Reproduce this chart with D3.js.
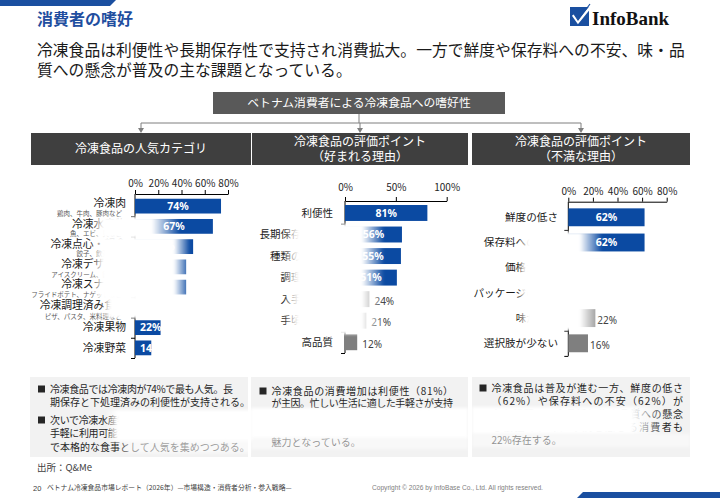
<!DOCTYPE html>
<html>
<head>
<meta charset="utf-8">
<script src="https://cdn.jsdelivr.net/npm/d3@7"></script>
<style>
  body { margin: 0; background: #fff; }
  svg { display: block; }
</style>
</head>
<body>
<div id="chart"></div>
<script>
// chart 1: popular categories
const popularCats = ["冷凍肉", "冷凍水産物", "冷凍点心・軽食", "冷凍デザート", "冷凍スナック", "冷凍調理済み食品", "冷凍果物", "冷凍野菜"];
const popularSubs = ["鶏肉、牛肉、豚肉など", "魚、エビ、貝など", "餃子、飲茶など", "アイスクリーム、餅など", "フライドポテト、ナゲットなど", "ピザ、パスタ、米料理など", "", ""];
const popularValues = [74, 67, 50, 44, 44, 36, 22, 14];
const popularTicks = [0, 20, 40, 60, 80];

// chart 2: reasons liked
const likeCats = ["利便性", "長期保存が可能", "種類の豊富さ", "調理が簡単", "入手が容易", "手頃な価格", "高品質"];
const likeValues = [81, 56, 55, 51, 24, 21, 12];
const likeTicks = [0, 50, 100];

// chart 3: reasons disliked
const dislikeCats = ["鮮度の低さ", "保存料への不安", "価格が高い", "パッケージの問題", "味が悪い", "選択肢が少ない"];
const dislikeValues = [62, 62, 40, 30, 22, 16];
const dislikeTicks = [0, 20, 40, 60, 80];

const W = 720, H = 498;
const FONT = '"Noto Sans CJK JP","Noto Sans",sans-serif';
const BLUE = "#0b4aa2", GRAY = "#7f7f7f";

const svg = d3.select("#chart").append("svg").attr("width", W).attr("height", H)
  .style("font-family", FONT);
const defs = svg.append("defs");
defs.append("filter").attr("id", "soft").attr("x", "-5%").attr("y", "-20%")
  .attr("width", "110%").attr("height", "140%")
  .append("feGaussianBlur").attr("stdDeviation", 1.6);

// header decorations
svg.append("path").attr("d", "M0,0 L116,0 L110,6 L0,6 Z").attr("fill", "#1a4fa0");
svg.append("path").attr("d", "M583,492 L720,492 L720,498 L577,498 Z").attr("fill", "#1a4fa0");

svg.append("text").attr("x", 37).attr("y", 25).attr("font-size", 16).attr("font-weight", 700)
  .attr("fill", "#1f4e9f").text("消費者の嗜好");

// logo
svg.append("rect").attr("x", 570).attr("y", 7).attr("width", 19).attr("height", 19).attr("fill", "#1a4fa0");
svg.append("path").attr("d", "M573,15 L578,22 L592,5").attr("fill", "none")
  .attr("stroke", "#fff").attr("stroke-width", 2.6);
svg.append("path").attr("d", "M574,14 L578,20 L590,4").attr("fill", "none")
  .attr("stroke", "#1a4fa0").attr("stroke-width", 1.2);
svg.append("text").attr("x", 592).attr("y", 25).attr("font-family", '"Liberation Serif",serif')
  .attr("font-size", 19).attr("font-weight", 700).attr("fill", "#111").text("InfoBank");

// lead text
const lead = ["冷凍食品は利便性や長期保存性で支持され消費拡大。一方で鮮度や保存料への不安、味・品",
  "質への懸念が普及の主な課題となっている。"];
lead.forEach((t, i) => svg.append("text").attr("x", 37).attr("y", 56 + i * 20)
  .attr("font-size", 15.8).attr("fill", "#1a1a1a").text(t));

// top box + connectors
svg.append("rect").attr("x", 213).attr("y", 92).attr("width", 292).attr("height", 22).attr("fill", "#595959");
svg.append("text").attr("x", 359).attr("y", 103).attr("dy", "0.35em").attr("text-anchor", "middle")
  .attr("font-size", 11.8).attr("fill", "#fff").text("ベトナム消費者による冷凍食品への嗜好性");
const conn = svg.append("g").attr("stroke", "#7f7f7f").attr("fill", "none");
conn.append("path").attr("d", "M359,114 V123 M141,123 H581 M141,123 V129 M360,123 V129 M581,123 V129");
[141, 360, 581].forEach(cx => svg.append("path").attr("d", `M${cx - 3},128 L${cx + 3},128 L${cx},133 Z`).attr("fill", "#7f7f7f"));

// section headers
const headers = [
  { x: 31, w: 220, lines: ["冷凍食品の人気カテゴリ"] },
  { x: 252, w: 216, lines: ["冷凍食品の評価ポイント", "（好まれる理由）"] },
  { x: 472, w: 218, lines: ["冷凍食品の評価ポイント", "（不満な理由）"] }
];
headers.forEach(h => {
  svg.append("rect").attr("x", h.x).attr("y", 133).attr("width", h.w).attr("height", 32).attr("fill", "#3f3f3f");
  h.lines.forEach((t, i) => svg.append("text").attr("x", h.x + h.w / 2)
    .attr("y", h.lines.length === 1 ? 149 : 142 + i * 15).attr("dy", "0.35em")
    .attr("text-anchor", "middle").attr("font-size", 12).attr("fill", "#fff").text(t));
});

const drawBars = (cfg) => {
  const g = svg.append("g");
  const n = cfg.cats.length;
  const x = d3.scaleLinear().domain([0, cfg.max]).range([cfg.left, cfg.right]);
  const y = d3.scaleBand().domain(cfg.cats).range([cfg.top, cfg.bottom])
    .paddingInner(cfg.pad).paddingOuter(cfg.pad / 2);
  const yb = d3.scaleLinear().domain([0, n]).range([cfg.top, cfg.bottom]);

  const xAxis = g.append("g").attr("transform", `translate(0,${cfg.axisY})`)
    .call(d3.axisTop(x).tickValues(cfg.ticks).tickFormat(d => d + "%")
      .tickSize(4).tickSizeOuter(0).tickPadding(cfg.tickPad));
  xAxis.select(".domain").attr("stroke", "#000");
  xAxis.selectAll("line").attr("stroke", "#000");
  xAxis.selectAll("text").attr("font-size", 10).attr("fill", "#262626").attr("font-family", FONT);

  const yAxis = g.append("g").attr("transform", `translate(${cfg.left},0)`)
    .call(d3.axisLeft(yb).tickValues(d3.range(1, n + 1)).tickFormat("").tickSize(4).tickSizeOuter(0));
  yAxis.select(".domain").attr("d", `M0,${cfg.axisY}V${cfg.bottom}`).attr("stroke", "#000");
  yAxis.selectAll("line").attr("stroke", "#000");

  cfg.cats.forEach((c, i) => {
    const v = cfg.values[i];
    const cy = y(c) + y.bandwidth() / 2;
    const blue = i < cfg.blueCount;
    g.append("rect").attr("x", x(0)).attr("y", y(c)).attr("width", x(v) - x(0))
      .attr("height", y.bandwidth()).attr("fill", blue ? BLUE : GRAY);
    const sub = cfg.subs ? cfg.subs[i] : "";
    g.append("text").attr("x", cfg.labelX).attr("y", sub ? cy - 2.5 : cy).attr("dy", "0.35em")
      .attr("text-anchor", "end").attr("font-size", cfg.labelSize).attr("fill", "#1a1a1a").text(c);
    if (sub) {
      g.append("text").attr("x", cfg.labelX - 4).attr("y", cy + (i === 5 ? 9.5 : 7.5)).attr("dy", "0.35em")
        .attr("text-anchor", "end").attr("font-size", 6.5).attr("fill", "#595959").text(sub);
    }
    if (blue) {
      const t = g.append("text").attr("y", cy).attr("dy", "0.36em").attr("font-size", 10.5)
        .attr("font-weight", 700).attr("fill", "#fff").attr("font-family", '"Noto Sans",sans-serif')
        .text(v + "%");
      const w = t.node().getComputedTextLength();
      t.attr("x", Math.max((x(0) + x(v)) / 2 - w / 2, x(0) + 5));
    } else {
      g.append("text").attr("x", x(v) + cfg.outGap).attr("y", cy + 2).attr("dy", "0.35em")
        .attr("font-size", 10).attr("fill", "#404040").attr("font-family", '"Noto Sans",sans-serif')
        .text(v + "%");
    }
  });
};

drawBars({ cats: popularCats, subs: popularSubs, values: popularValues, ticks: popularTicks, max: 80,
  left: 135, right: 228, axisY: 194, top: 196, bottom: 358, pad: 0.27, tickPad: 3,
  labelX: 126, labelSize: 10.8, blueCount: 8, outGap: 4 });
drawBars({ cats: likeCats, values: likeValues, ticks: likeTicks, max: 100,
  left: 345, right: 446.7, axisY: 201, top: 202.2, bottom: 353, pad: 0.26, tickPad: 6,
  labelX: 333, labelSize: 10.5, blueCount: 4, outGap: 5 });
drawBars({ cats: dislikeCats, values: dislikeValues, ticks: dislikeTicks, max: 80,
  left: 568.3, right: 666.7, axisY: 201.7, top: 204.7, bottom: 355.9, pad: 0.29, tickPad: 3,
  labelX: 558, labelSize: 10.6, blueCount: 2, outGap: 2 });

// comment boxes
const boxes = [
  { x: 30, w: 218, textX: 50, right: 233, paras: [
    { y: 389, lines: ["冷凍食品では冷凍肉が74%で最も人気。長", "期保存と下処理済みの利便性が支持される。"] },
    { y: 420, lines: ["次いで冷凍水産物（67%）が続き、調理が", "手軽に利用可能な点心やデザートも、家庭", "で本格的な食事として人気を集めつつある。"] }
  ] },
  { x: 251, w: 217, textX: 271.5, right: 453, paras: [
    { y: 391, step: 12.8, lines: ["冷凍食品の消費増加は利便性（81%）", "が主因。忙しい生活に適した手軽さが支持", "され、長期保存（56%）や種類の豊富さも", "消費者にとって冷凍食品を選ぶ大きな", "魅力となっている。"] }
  ] },
  { x: 472, w: 218, textX: 491.5, right: 683, paras: [
    { y: 388, step: 13.2, lines: ["冷凍食品は普及が進む一方、鮮度の低さ", "（62%）や保存料への不安（62%）が", "主な課題で、食品添加物や品質への懸念", "も根強く、味に不満を感じる消費者も", "22%存在する。"] }
  ] }
];
boxes.forEach(b => {
  svg.append("rect").attr("x", b.x).attr("y", 377).attr("width", b.w).attr("height", 80).attr("fill", "#f2f2f2");
  b.paras.forEach(p => {
    const step = p.step || 13.5;
    svg.append("rect").attr("x", b.textX - 12).attr("y", p.y - 3.5).attr("width", 7).attr("height", 7).attr("fill", "#262626");
    p.lines.forEach((t, i) => {
      const tx = svg.append("text").attr("x", b.textX).attr("y", p.y + i * step).attr("dy", "0.35em")
        .attr("font-size", 10).attr("fill", "#262626").text(t);
      if (i < p.lines.length - 1) tx.attr("textLength", b.right - b.textX).attr("lengthAdjust", "spacing");
    });
  });
});

// footer
svg.append("text").attr("x", 37).attr("y", 468).attr("dy", "0.35em").attr("font-size", 9.5)
  .attr("fill", "#404040").text("出所：Q&Me");
svg.append("text").attr("x", 33).attr("y", 488).attr("dy", "0.35em").attr("font-size", 7.5)
  .attr("fill", "#404040").attr("font-family", '"Liberation Sans",sans-serif').text("20");
svg.append("text").attr("x", 47).attr("y", 488).attr("dy", "0.35em").attr("font-size", 6.8)
  .attr("fill", "#404040").text("ベトナム冷凍食品市場レポート（2026年）—市場構造・消費者分析・参入戦略—");
svg.append("text").attr("x", 372).attr("y", 488).attr("dy", "0.35em").attr("font-size", 6.6)
  .attr("fill", "#808080").attr("font-family", '"Liberation Sans",sans-serif')
  .text("Copyright © 2026 by InfoBase Co., Ltd. All rights reserved.");

// white masks seen on the reference slide
const fogs = [
  { x: 92, y: 217, w: 96, h: 21, stops: [[92, 0], [103, 1], [152, 1], [180, 0]] },
  { x: 92, y: 237, w: 100, h: 62, stops: [[92, 0], [103, 1], [174, 1], [190, 0]] },
  { x: 100, y: 296, w: 118, h: 22, stops: [[100, 0], [110, 1], [200, 1], [216, 0]] },
  { x: 283, y: 224, w: 105, h: 110, stops: [[283, 0], [298, 1], [362, 1], [384, 0]] },
  { x: 518, y: 232, w: 85, h: 98, stops: [[518, 0], [528, 1], [580, 1], [602, 0]] },
  { x: 520, y: 256, w: 150, h: 50, stops: [[520, 0], [528, 1], [670, 1]] },
  { x: 106, y: 410, w: 146, h: 31, stops: [[106, 0], [118, 1], [252, 1]] },
  { x: 116, y: 440, w: 134, h: 13, stops: [[116, 0], [132, 0.55], [250, 0.55]] },
  { x: 251, y: 408, w: 217, h: 30, stops: [[251, 1], [468, 1]] },
  { x: 251, y: 436, w: 217, h: 13, stops: [[251, 0.5], [468, 0.5]] },
  { x: 472, y: 407, w: 200, h: 27, stops: [[472, 1], [632, 1], [665, 0]] },
  { x: 472, y: 434, w: 218, h: 13, stops: [[472, 0.5], [690, 0.5]] }
];
fogs.forEach((f, i) => {
  const id = "fog" + i;
  const x0 = f.stops[0][0], x1 = f.stops[f.stops.length - 1][0];
  const grad = defs.append("linearGradient").attr("id", id).attr("gradientUnits", "userSpaceOnUse")
    .attr("x1", x0).attr("x2", x1).attr("y1", 0).attr("y2", 0);
  f.stops.forEach(([sx, op]) => grad.append("stop").attr("offset", (sx - x0) / (x1 - x0))
    .attr("stop-color", "#fff").attr("stop-opacity", op));
  svg.append("rect").attr("x", f.x).attr("y", f.y).attr("width", f.w).attr("height", f.h)
    .attr("fill", `url(#${id})`).attr("filter", "url(#soft)");
});
</script>
</body>
</html>
